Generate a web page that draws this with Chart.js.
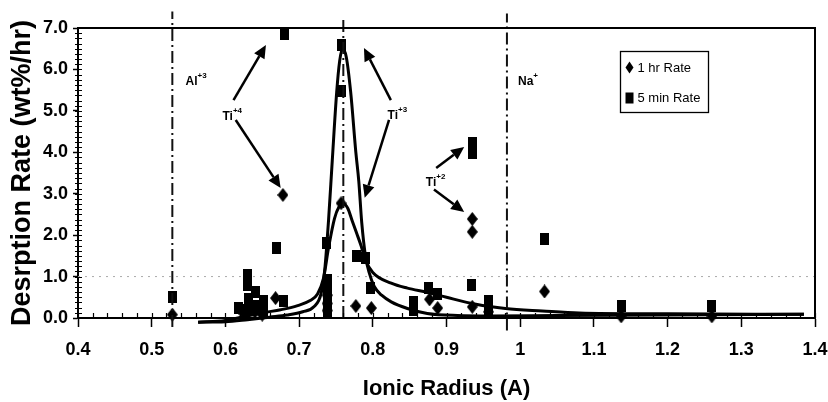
<!DOCTYPE html>
<html>
<head>
<meta charset="utf-8">
<script src="https://cdn.jsdelivr.net/npm/chart.js@4.4.1/dist/chart.umd.min.js"></script>
<style>
  html, body { margin: 0; padding: 0; background: #fff; }
  #wrap { width: 828px; height: 402px; }
</style>
</head>
<body>
<div id="wrap"><canvas id="chart" width="828" height="402"></canvas></div>
<script>
// 1 hr Rate (diamonds)
const hrX = [0.528, 0.625, 0.64, 0.65, 0.668, 0.678, 0.738, 0.738, 0.738, 0.757, 0.777, 0.798, 0.877, 0.888, 0.935, 0.935, 0.935, 0.957, 1.033, 1.137, 1.26];
const hrY = [0.08, 0.1, 0.15, 0.08, 0.48, 2.97, 0.55, 0.35, 0.18, 2.77, 0.29, 0.24, 0.45, 0.24, 2.39, 2.08, 0.27, 0.15, 0.64, 0.04, 0.04];

// 5 min Rate (squares)
const minX = [0.528, 0.618, 0.63, 0.63, 0.631, 0.63, 0.641, 0.641, 0.652, 0.652, 0.669, 0.679, 0.68, 0.737, 0.738, 0.738, 0.738, 0.738, 0.738, 0.757, 0.757, 0.778, 0.79, 0.797, 0.855, 0.855, 0.876, 0.888, 0.935, 0.935, 0.934, 0.957, 0.957, 1.033, 1.137, 1.26];
const minY = [0.5, 0.25, 1.05, 0.8, 0.45, 0.2, 0.62, 0.3, 0.42, 0.15, 1.7, 0.42, 6.85, 1.8, 0.92, 0.7, 0.5, 0.3, 0.12, 6.6, 5.47, 1.5, 1.45, 0.73, 0.38, 0.2, 0.72, 0.58, 4.22, 3.99, 0.8, 0.42, 0.22, 1.91, 0.28, 0.28];

// fitted curves
const fitHrX = [0.563, 0.6, 0.63, 0.652, 0.675, 0.698, 0.715, 0.725, 0.733, 0.74, 0.748, 0.754, 0.76, 0.766, 0.772, 0.778, 0.784, 0.79, 0.8, 0.825, 0.847, 0.874, 0.9, 0.94, 0.98, 1.03, 1.08, 1.2, 1.385];
const fitHrY = [-0.1, -0.06, 0.05, 0.13, 0.2, 0.3, 0.42, 0.58, 0.95, 1.7, 2.4, 2.68, 2.76, 2.65, 2.35, 2.05, 1.75, 1.4, 1.1, 0.84, 0.72, 0.62, 0.5, 0.33, 0.23, 0.17, 0.12, 0.1, 0.09];
const fitMinX = [0.563, 0.6, 0.63, 0.66, 0.684, 0.705, 0.72, 0.73, 0.735, 0.74, 0.745, 0.751, 0.755, 0.759, 0.764, 0.77, 0.777, 0.781, 0.785, 0.79, 0.795, 0.802, 0.812, 0.825, 0.847, 0.874, 0.915, 0.96, 1.05, 1.2, 1.385];
const fitMinY = [-0.1, -0.09, -0.04, 0.02, 0.07, 0.15, 0.27, 0.6, 1.2, 2.37, 3.8, 5.45, 6.2, 6.5, 6.3, 5.45, 4.0, 3.3, 2.3, 1.5, 1.1, 0.76, 0.55, 0.39, 0.23, 0.11, 0.06, 0.05, 0.06, 0.07, 0.09];

// ion radius marker lines
const ionX = [0.528, 0.76, 0.982];
const ionTop = [7.4, 7.25, 7.35];
const ionBottom = [-0.22, 0, -0.3];

// annotation text, positions in data units
const notes = [
  {x: 0.546, y: 5.7, text: 'Al', sup: '+3'},
  {x: 0.596, y: 4.85, text: 'Ti', sup: '+4'},
  {x: 0.82, y: 4.88, text: 'Ti', sup: '+3'},
  {x: 0.872, y: 3.26, text: 'Ti', sup: '+2'},
  {x: 0.997, y: 5.7, text: 'Na', sup: '+'}
];
const arrows = [
  [0.611, 5.26, 0.655, 6.59],
  [0.614, 4.78, 0.675, 3.14],
  [0.8245, 5.26, 0.788, 6.52],
  [0.822, 4.78, 0.789, 2.9],
  [0.886, 3.62, 0.924, 4.13],
  [0.883, 3.1, 0.924, 2.56]
];
// legend box corner (data units)
const legendAt = {x: 1.136, y: 6.44};

const FONT = '"Liberation Sans", Arial, sans-serif';

function marker(w, h, shape) {
  const c = document.createElement('canvas');
  c.width = w; c.height = h;
  const g = c.getContext('2d');
  g.fillStyle = '#000';
  if (shape === 'diamond') {
    g.beginPath();
    g.moveTo(w / 2, 0); g.lineTo(w, h / 2); g.lineTo(w / 2, h); g.lineTo(0, h / 2);
    g.closePath(); g.fill();
  } else {
    g.fillRect(0, 0, w, h);
  }
  return c;
}
const diamondImg = marker(11, 14, 'diamond');
const squareImg = marker(9, 12, 'square');

const zip = (xs, ys) => xs.map((x, i) => ({x: x, y: ys[i]}));

let datasets = [];
ionX.forEach((x, i) => {
  datasets.push({
    label: 'ion' + i,
    data: [{x: x, y: ionBottom[i]}, {x: x, y: ionTop[i]}],
    showLine: true, pointRadius: 0, borderColor: '#111', borderWidth: 2,
    borderDash: [12, 4, 2, 4], clip: false
  });
});
datasets.push({
  label: 'fit 5 min', data: zip(fitMinX, fitMinY), showLine: true, pointRadius: 0,
  borderColor: '#000', borderWidth: 3, cubicInterpolationMode: 'monotone', clip: {left: 0, top: 0, right: 0, bottom: 8}
});
datasets.push({
  label: 'fit 1 hr', data: zip(fitHrX, fitHrY), showLine: true, pointRadius: 0,
  borderColor: '#000', borderWidth: 3, cubicInterpolationMode: 'monotone', clip: {left: 0, top: 0, right: 0, bottom: 8}
});
datasets.push({
  label: '5 min Rate', data: zip(minX, minY), pointStyle: squareImg, pointRadius: 6,
  backgroundColor: '#000', borderColor: '#000', clip: false
});
datasets.push({
  label: '1 hr Rate', data: zip(hrX, hrY), pointStyle: diamondImg, pointRadius: 6,
  backgroundColor: '#000', borderColor: '#000', clip: false
});

function drawArrow(ctx, x1, y1, x2, y2) {
  const a = Math.atan2(y2 - y1, x2 - x1);
  const len = 13, half = 6;
  const bx = x2 - len * Math.cos(a), by = y2 - len * Math.sin(a);
  ctx.beginPath();
  ctx.moveTo(x1, y1);
  ctx.lineTo(bx, by);
  ctx.stroke();
  ctx.beginPath();
  ctx.moveTo(x2, y2);
  ctx.lineTo(bx + half * Math.sin(a), by - half * Math.cos(a));
  ctx.lineTo(bx - half * Math.sin(a), by + half * Math.cos(a));
  ctx.closePath();
  ctx.fill();
}

const decor = {
  id: 'decor',
  beforeDatasetsDraw(chart) {
    const {ctx, chartArea: a, scales: {y}} = chart;
    // faint dotted gridline at 1.0
    ctx.save();
    ctx.strokeStyle = '#aaa';
    ctx.lineWidth = 1;
    ctx.setLineDash([2, 5]);
    ctx.beginPath();
    ctx.moveTo(a.left, y.getPixelForValue(1));
    ctx.lineTo(a.right, y.getPixelForValue(1));
    ctx.stroke();
    ctx.restore();
  },
  afterDraw(chart) {
    const {ctx, chartArea: a, scales: {x, y}} = chart;
    ctx.save();
    ctx.strokeStyle = '#000';
    ctx.fillStyle = '#000';
    // top and right frame
    ctx.lineWidth = 2;
    ctx.beginPath();
    ctx.moveTo(a.left, a.top);
    ctx.lineTo(a.right, a.top);
    ctx.lineTo(a.right, a.bottom);
    ctx.stroke();
    // minor ticks
    ctx.lineWidth = 1.2;
    ctx.beginPath();
    for (let v = 0.4; v < 1.4001; v += 0.02) {
      const px = Math.round(x.getPixelForValue(v)) + 0.5;
      ctx.moveTo(px, a.bottom);
      ctx.lineTo(px, a.bottom - 5);
    }
    for (let v = 0; v <= 7.0001; v += 0.125) {
      const py = Math.round(y.getPixelForValue(v)) + 0.5;
      ctx.moveTo(a.left - 3, py);
      ctx.lineTo(a.left + 4, py);
    }
    ctx.stroke();
    // annotations
    notes.forEach(n => {
      const px = x.getPixelForValue(n.x), py = y.getPixelForValue(n.y);
      ctx.font = 'bold 12px ' + FONT;
      ctx.textBaseline = 'middle';
      ctx.textAlign = 'left';
      ctx.fillText(n.text, px, py);
      const w = ctx.measureText(n.text).width;
      ctx.font = 'bold 8px ' + FONT;
      ctx.fillText(n.sup, px + w, py - 6);
    });
    ctx.lineWidth = 2.5;
    arrows.forEach(r => {
      drawArrow(ctx, x.getPixelForValue(r[0]), y.getPixelForValue(r[1]),
        x.getPixelForValue(r[2]), y.getPixelForValue(r[3]));
    });
    // legend box
    const lx = Math.round(x.getPixelForValue(legendAt.x)) + 0.5;
    const ly = Math.round(y.getPixelForValue(legendAt.y)) + 0.5;
    ctx.lineWidth = 1.3;
    ctx.strokeRect(lx, ly, 88, 61);
    ctx.beginPath();
    ctx.moveTo(lx + 9, ly + 10); ctx.lineTo(lx + 13, ly + 16);
    ctx.lineTo(lx + 9, ly + 22); ctx.lineTo(lx + 5, ly + 16);
    ctx.closePath(); ctx.fill();
    ctx.fillRect(lx + 5, ly + 41, 8, 11);
    ctx.font = '13px ' + FONT;
    ctx.textBaseline = 'middle';
    ctx.fillText('1 hr Rate', lx + 17, ly + 17);
    ctx.fillText('5 min Rate', lx + 17, ly + 47);
    ctx.restore();
  }
};

new Chart(document.getElementById('chart'), {
  type: 'scatter',
  data: {datasets: datasets},
  options: {
    responsive: false,
    animation: false,
    layout: {padding: {top: 28, right: 2, left: 0, bottom: 0}},
    plugins: {legend: {display: false}, tooltip: {enabled: false}},
    scales: {
      x: {
        type: 'linear', min: 0.4, max: 1.4,
        afterFit: s => { s.height = 84; s.paddingRight = 13; },
        border: {color: '#000', width: 2},
        grid: {drawOnChartArea: false, drawTicks: true, tickLength: 9, tickColor: '#000', tickWidth: 1.5},
        ticks: {
          stepSize: 0.1, padding: 12, color: '#000',
          font: {family: FONT, size: 18, weight: 'bold'},
          callback: v => String(Math.round(v * 10) / 10)
        },
        title: {
          display: true, text: 'Ionic Radius (A)', color: '#000',
          font: {family: FONT, size: 22, weight: 'bold'}, padding: {top: 0, bottom: 0}
        }
      },
      y: {
        type: 'linear', min: 0, max: 7,
        afterFit: s => { s.width = 78; },
        border: {color: '#000', width: 2},
        grid: {drawOnChartArea: false, drawTicks: true, tickLength: 5, tickColor: '#000', tickWidth: 1.5},
        ticks: {
          stepSize: 1, padding: 5, color: '#000',
          font: {family: FONT, size: 18, weight: 'bold'},
          callback: v => v.toFixed(1)
        },
        title: {
          display: true, text: 'Desrption Rate (wt%/hr)', color: '#000',
          font: {family: FONT, size: 27, weight: 'bold'}, padding: {top: 6, bottom: 0}
        }
      }
    }
  },
  plugins: [decor]
});
</script>
</body>
</html>
